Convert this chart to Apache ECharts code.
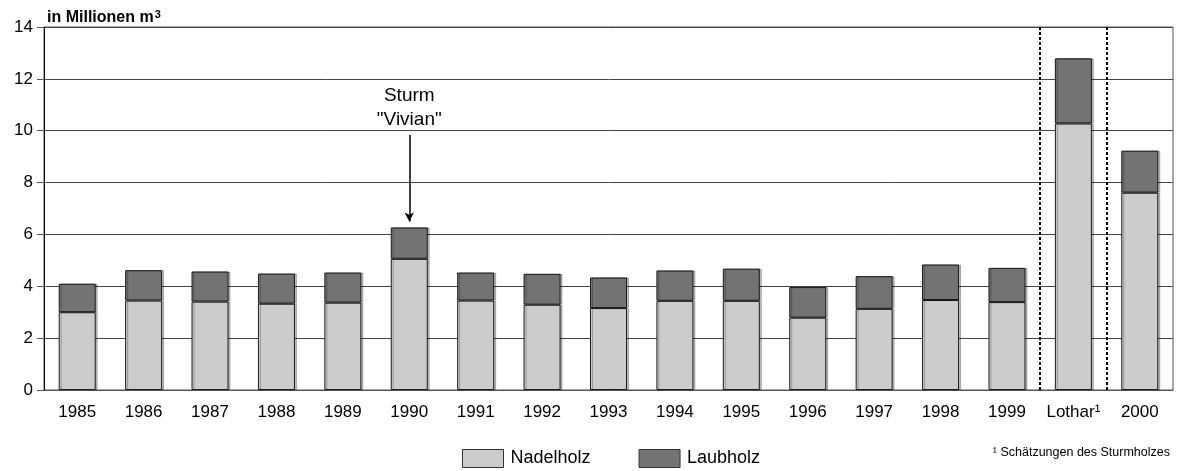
<!DOCTYPE html>
<html>
<head>
<meta charset="utf-8">
<script src="https://cdn.jsdelivr.net/npm/echarts@6/dist/echarts.min.js"></script>
<style>
html,body{margin:0;padding:0;background:#fff;}
#chart{width:1179px;height:471px;}
</style>
</head>
<body>
<div id="chart"></div>
<script>
var categories = ['1985','1986','1987','1988','1989','1990','1991','1992','1993','1994','1995','1996','1997','1998','1999','Lothar¹','2000'];
var nadelholz = [3.00,3.45,3.41,3.33,3.37,5.06,3.45,3.29,3.16,3.44,3.44,2.79,3.13,3.47,3.39,10.28,7.61];
var laubholz  = [1.10,1.17,1.16,1.16,1.16,1.21,1.08,1.19,1.18,1.17,1.24,1.18,1.26,1.37,1.32,2.51,1.62];
var yTicks = {min:0, max:14, interval:2};
var separators = [15, 16];
var stormCategory = '1990';
var arrowFrom = 9.83, arrowTo = 6.5, stormLabelAt = 10.9;

var FONT = 'Liberation Sans';
var chart = echarts.init(document.getElementById('chart'), null, {renderer:'canvas'});
var barStyle = function(c){ return {color:c, borderColor:'#1a1a1a', borderWidth:1, shadowColor:'rgba(0,0,0,0.25)', shadowOffsetX:2, shadowOffsetY:0, shadowBlur:0}; };
chart.setOption({
  animation:false,
  textStyle:{fontFamily:FONT, color:'#000'},
  title:{text:'in Millionen m{s|3}', left:42, top:4, textStyle:{fontFamily:FONT, fontSize:16, fontWeight:'bold', color:'#000',
    rich:{s:{fontFamily:FONT, fontSize:11, fontWeight:'bold', verticalAlign:'top', padding:[0,0,6,1]}}}},
  grid:{left:44, right:6, top:27, bottom:81, show:true, borderColor:'#555', borderWidth:1},
  legend:{
    data:['Nadelholz','Laubholz'], icon:'rect', left:457, top:444, itemWidth:41, itemHeight:18, itemGap:48,
    textStyle:{fontFamily:FONT, fontSize:18, color:'#000', padding:[0,0,0,2]},
    itemStyle:{borderColor:'#333', borderWidth:1}
  },
  xAxis:[{
    type:'category', data:categories, boundaryGap:true,
    axisLine:{show:true, lineStyle:{color:'#555', width:1}},
    axisTick:{show:false},
    axisLabel:{fontFamily:FONT, fontSize:17, color:'#000', margin:14, interval:0}
  },{
    type:'value', min:0, max:17, show:false
  }],
  yAxis:{
    type:'value', min:yTicks.min, max:yTicks.max, interval:yTicks.interval,
    axisLine:{show:true, lineStyle:{color:'#000', width:1}},
    axisTick:{show:true, length:7, lineStyle:{color:'#555'}},
    axisLabel:{fontFamily:FONT, fontSize:17, color:'#000', margin:11},
    splitLine:{show:true, lineStyle:{color:'#444', width:1}}
  },
  series:[
    {name:'Nadelholz', type:'bar', stack:'t', data:nadelholz, barWidth:37, itemStyle:barStyle('#cccccc')},
    {name:'Laubholz', type:'bar', stack:'t', data:laubholz, barWidth:37, itemStyle:barStyle('#737373'),
      markLine:{silent:true, symbol:['none','arrow'], symbolSize:[7,9], label:{show:false},
        lineStyle:{color:'#000', width:1.5, type:'solid'},
        data:[[{coord:[stormCategory, arrowFrom]},{coord:[stormCategory, arrowTo]}]]},
      markPoint:{silent:true, symbol:'circle', symbolSize:0,
        data:[{coord:[stormCategory, stormLabelAt], label:{show:true, position:'inside', formatter:'Sturm\n"Vivian"', fontFamily:FONT, fontSize:19, lineHeight:24, color:'#000'}}]}
    },
    {type:'scatter', xAxisIndex:1, data:[[0,0]], symbolSize:0, silent:true,
      markLine:{silent:true, symbol:['none','none'], label:{show:false},
        lineStyle:{color:'#000', width:2, type:[3,2]},
        data:separators.map(function(v){return {xAxis:v};})}
    }
  ],
  graphic:[{
    type:'text', right:9, top:446,
    style:{text:'¹ Schätzungen des Sturmholzes', font:'12.5px "Liberation Sans"', fill:'#000'}
  }]
});
</script>
</body>
</html>
